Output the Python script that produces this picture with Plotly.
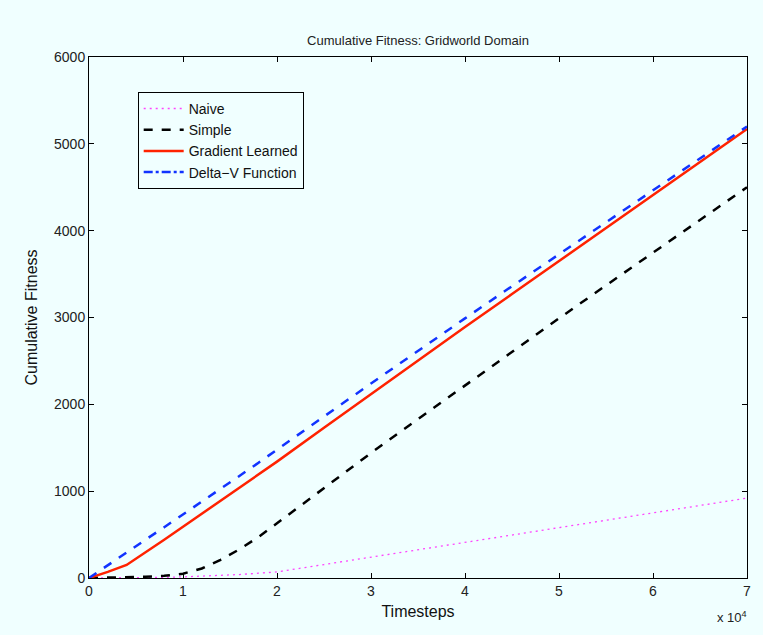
import plotly.graph_objects as go

timesteps = [0, 2000, 4000, 6000, 8000, 10000, 12000, 14000, 16000, 18000, 20000,
             25000, 30000, 35000, 40000, 45000, 50000, 55000, 60000, 65000, 70000]
naive = [0, 0, 2, 5, 8, 13, 20, 30, 40, 55, 70,
         155, 240, 325, 410, 495, 580, 665, 750, 835, 920]
simple = [0, 3, 8, 15, 25, 50, 110, 210, 330, 470, 630,
          1040, 1440, 1830, 2220, 2610, 2990, 3370, 3750, 4130, 4500]
gradient = [0, 70, 150, 290, 440, 590, 740, 890, 1040, 1190, 1340,
            1730, 2120, 2510, 2890, 3270, 3650, 4030, 4410, 4790, 5170]
deltav = [0, 150, 295, 440, 585, 730, 880, 1025, 1175, 1325, 1480,
          1860, 2240, 2620, 2990, 3360, 3730, 4100, 4470, 4840, 5200]

x_tickvals = [0, 10000, 20000, 30000, 40000, 50000, 60000, 70000]
x_ticktext = ["0", "1", "2", "3", "4", "5", "6", "7"]
y_tickvals = [0, 1000, 2000, 3000, 4000, 5000, 6000]

BG = "#f0ffff"
FONT = "Liberation Sans, Arial, sans-serif"

fig = go.Figure()
fig.add_trace(go.Scatter(x=timesteps, y=naive, mode="lines", name="Naive",
                         line=dict(color="#ff44ff", width=1.3, dash="2px,4px")))
fig.add_trace(go.Scatter(x=timesteps, y=simple, mode="lines", name="Simple",
                         line=dict(color="black", width=2.5, dash="dash")))
fig.add_trace(go.Scatter(x=timesteps, y=gradient, mode="lines", name="Gradient Learned",
                         line=dict(color="#ff2200", width=2.5, dash="solid")))
fig.add_trace(go.Scatter(x=timesteps, y=deltav, mode="lines", name="Delta\u2212V Function",
                         showlegend=False,
                         line=dict(color="#1133ff", width=2.5, dash="dash")))
fig.add_trace(go.Scatter(x=[None], y=[None], mode="lines", name="Delta\u2212V Function",
                         line=dict(color="#1133ff", width=2.5, dash="dashdot")))

axis_common = dict(showline=True, linecolor="black", linewidth=1, mirror="allticks",
                   ticks="inside", ticklen=5, tickcolor="black", showgrid=False,
                   zeroline=False, tickfont=dict(size=14, color="#222", family=FONT))

fig.update_xaxes(range=[0, 70000], tickvals=x_tickvals, ticktext=x_ticktext,
                 title=dict(text="Timesteps", font=dict(size=16, color="#111", family=FONT),
                            standoff=8),
                 **axis_common)
fig.update_yaxes(range=[0, 6000], tickvals=y_tickvals,
                 title=dict(text="Cumulative Fitness", font=dict(size=16, color="#111", family=FONT),
                            standoff=12),
                 **axis_common)

fig.add_annotation(x=1.0, y=0, xref="paper", yref="paper", xanchor="right", yanchor="top",
                   yshift=-29, xshift=2, showarrow=False,
                   text="x 10<sup>4</sup>", font=dict(size=13, color="#222", family=FONT))

fig.update_layout(
    width=763, height=635,
    margin=dict(l=89, r=12, t=57, b=57),
    paper_bgcolor=BG, plot_bgcolor=BG,
    font=dict(family=FONT, color="#222"),
    title=dict(text="Cumulative Fitness: Gridworld Domain", x=0.5, xanchor="center",
               xref="paper", y=1 - 40 / 635, yanchor="middle",
               font=dict(size=13, color="#222", family=FONT)),
    legend=dict(x=0.074, y=0.933, xanchor="left", yanchor="top",
                bgcolor=BG, bordercolor="black", borderwidth=1,
                font=dict(size=14, color="#111", family=FONT),
                tracegroupgap=0, itemwidth=40),
    showlegend=True,
)

fig.write_html("out.html")
